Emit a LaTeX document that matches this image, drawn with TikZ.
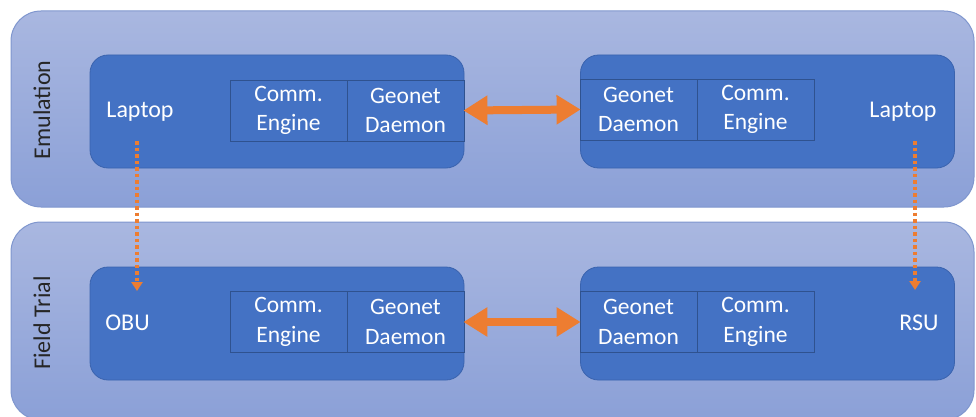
\documentclass[tikz,border=0pt]{standalone}
\usepackage{fontspec}
\setmainfont{Carlito}
\usetikzlibrary{arrows.meta}
\definecolor{outerT}{HTML}{A9B7E0}
\definecolor{outerB}{HTML}{8BA0D7}
\definecolor{outerD}{HTML}{7F96CE}
\definecolor{inner}{HTML}{4472C4}
\definecolor{innerD}{HTML}{3A63AE}
\definecolor{subD}{HTML}{2F528F}
\definecolor{orng}{HTML}{ED7D31}
\tikzset{
  outerbox/.style={draw=outerD, line width=1pt, top color=outerT, bottom color=outerB, rounded corners=30pt, minimum width=963pt, inner sep=0pt},
  innerbox/.style={draw=innerD, line width=0.8pt, fill=inner, rounded corners=18pt, minimum width=374pt, minimum height=113pt, inner sep=0pt},
  subbox/.style={draw=subD, line width=0.8pt, fill=inner, minimum width=117pt, minimum height=61pt, inner sep=0pt, align=center, text=white, font=\fontsize{23.5}{29.5}\selectfont},
  lbl/.style={text=white, font=\fontsize{24}{28}\selectfont, inner sep=0pt},
  side/.style={rotate=90, text=black!85, font=\fontsize{24}{28}\selectfont, inner sep=0pt},
  biarrow/.style={orng, line width=8pt, {Triangle[length=24pt,width=28pt]}-{Triangle[length=24pt,width=28pt]}, shorten <=-1pt, shorten >=-1pt},
  dotarrow/.style={orng, line width=3.5pt, dash pattern=on 3.5pt off 3pt, -{Triangle[length=9pt,width=11pt]}}
}
\begin{document}
\begin{tikzpicture}[x=1pt,y=-1pt]
\useasboundingbox (0,0) rectangle (976,417);
\node[outerbox, minimum height=196pt] (emu) at (492.5,109) {};
\node[outerbox, minimum height=198pt] (ft) at (492.5,321) {};
\node[side] (emul) at (42,110) {Emulation};
\node[side] (ftl) at (42,323) {Field Trial};
% top
\node[innerbox] (tl) at (277,111.5) {};
\node[innerbox] (tr) at (767.5,111.5) {};
\node[subbox] (ceTL) at (288.5,110.5) {Comm.\\Engine};
\node[subbox] (gdTL) at (405.5,110.5) {Geonet\\Daemon};
\node[subbox] (gdTR) at (638.5,109.5) {Geonet\\Daemon};
\node[subbox] (ceTR) at (755.5,109.5) {Comm.\\Engine};
\node[lbl] (lapL) at (140,112) {Laptop};
\node[lbl] (lapR) at (903,112) {Laptop};
% bottom
\node[innerbox] (bl) at (277,323.5) {};
\node[innerbox] (br) at (767.5,323.5) {};
\node[subbox] (ceBL) at (288.5,322) {Comm.\\Engine};
\node[subbox] (gdBL) at (405.5,322) {Geonet\\Daemon};
\node[subbox] (gdBR) at (638.5,322) {Geonet\\Daemon};
\node[subbox] (ceBR) at (755.5,322) {Comm.\\Engine};
\node[lbl] (obu) at (127.5,323) {OBU};
\node[lbl] (rsu) at (919,323) {RSU};
% arrows
\draw[biarrow] (gdTL.east) -- (gdTR.west);
\draw[biarrow] (gdBL.east) -- (gdBR.west);
\coordinate (dL1) at (137,141);
\coordinate (dL2) at (137,291);
\coordinate (dR1) at (915,141);
\coordinate (dR2) at (915,290);
\draw[dotarrow] (dL1) -- (dL2);
\draw[dotarrow] (dR1) -- (dR2);
\end{tikzpicture}
\end{document}
